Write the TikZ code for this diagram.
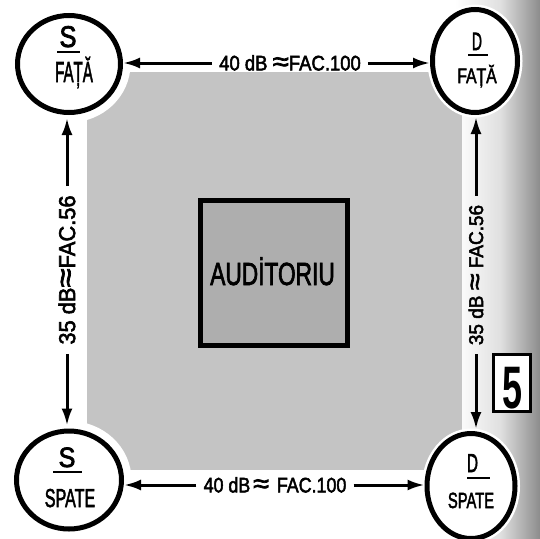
\documentclass[tikz,border=0pt]{standalone}
\usepackage{fontspec}
\setmainfont{Liberation Sans}
\newfontfamily\medfont{Liberation Sans}[FakeBold=2.5]
\usetikzlibrary{shapes.geometric,arrows.meta}
\definecolor{bggray}{RGB}{196,196,196}
\definecolor{boxgray}{RGB}{174,174,174}
\definecolor{edgegray}{RGB}{140,140,140}
\definecolor{edgelight}{RGB}{224,224,224}
\newcommand\mytxt[3]{\scalebox{#2}[1]{\fontsize{#1}{#1}\medfont #3}}
\newcommand\apx{\raisebox{-0.02em}{\scalebox{1.6}[1.3]{≈}}}
\begin{document}
\begin{tikzpicture}[x=1pt,y=-1pt,
  place/.style={ellipse, draw, line width=5pt, fill=white, inner sep=0pt},
  halo/.style={preaction={draw=white, line width=20pt}},
  thinhalo/.style={preaction={draw=white, line width=10pt}},
  conn/.style={line width=3pt, -{Latex[length=17pt,width=11pt]}},
  lbl/.style={inner xsep=7pt, inner ysep=0pt},
  txt/.style={anchor=base, inner sep=0pt},
  uline/.style={line width=2.5pt}
]
\useasboundingbox (0,0) rectangle (540,538);
\fill[white] (0,0) rectangle (540,538);
\shade[left color=white, right color=edgelight] (455,0) rectangle (500,538);
\shade[left color=edgelight, right color=edgegray] (500,0) rectangle (540,538);
\fill[bggray] (87,72) rectangle (462,470);

% circles
\node[place, halo, minimum width=103pt, minimum height=97pt] (SF) at (69,64) {};
\node[place, thinhalo, minimum width=85pt, minimum height=103pt] (DF) at (475,61) {};
\node[place, halo, minimum width=105pt, minimum height=98pt] (SS) at (69,480) {};
\node[place, thinhalo, minimum width=88pt, minimum height=105pt] (DS) at (471,486) {};

% circle texts
\node[txt] (SFa) at (68,47) {\mytxt{30}{0.85}{S}};
\draw[uline] (57,52) -- (80,52);
\node[txt] (SFb) at (74,82) {\mytxt{29}{0.52}{FAȚĂ}};

\node[txt] (DFa) at (477,50) {\mytxt{25}{0.55}{D}};
\draw[uline] (468,55) -- (488,55);
\node[txt] (DFb) at (477,83) {\mytxt{21}{0.75}{FAȚĂ}};

\node[txt] (SSa) at (67,467) {\mytxt{28}{0.9}{S}};
\draw[uline] (53,472) -- (82,472);
\node[txt] (SSb) at (70,507) {\mytxt{26}{0.62}{SPATE}};

\node[txt] (DSa) at (472.5,472) {\mytxt{26}{0.59}{D}};
\draw[uline] (467,478) -- (490,478);
\node[txt] (DSb) at (471,508) {\mytxt{22}{0.67}{SPATE}};

% auditorium
\node[draw, line width=5pt, fill=boxgray, minimum width=147pt, minimum height=145pt] (AUD) at (274,273) {};
\node[txt] (AUDt) at (272.5,285) {\mytxt{32}{0.71}{AUDİTORIU}};

% labels
\node[lbl] (top) at (290,63) {\mytxt{21}{0.88}{40 dB \apx FAC.100}};
\node[lbl] (bot) at (275,485) {\mytxt{21}{0.85}{40 dB\,\apx\, FAC.100}};
\node[lbl, inner xsep=9pt, rotate=90] (lft) at (67,270) {\mytxt{23}{0.95}{35 dB\apx FAC.56}};
\node[lbl, inner xsep=9pt, rotate=90] (rgt) at (476,275) {\mytxt{20}{0.95}{35 dB \apx\ FAC.56}};

% connectors
\draw[conn] (top.west) -- (top.west -| SF.east);
\draw[conn] (top.east) -- (top.east -| DF.west);
\draw[conn] (bot.west) -- (bot.west -| SS.east);
\draw[conn] (bot.east) -- (bot.east -| DS.west);
\draw[conn, shorten >=3pt] (lft.east) -- (lft.east |- SF.south);
\draw[conn, shorten >=3pt] (lft.west) -- (lft.west |- SS.north);
\draw[conn, shorten >=2pt] (rgt.east) -- (rgt.east |- DF.south);
\draw[conn, shorten >=2pt] (rgt.west) -- (rgt.west |- DS.north);

% figure number
\node[draw, line width=3pt, fill=white, minimum width=37pt, minimum height=57pt] (five) at (512,383) {};
\node[txt] (fivet) at (512.5,408) {\scalebox{0.6}[1]{\fontsize{60}{60}\selectfont\bfseries 5}};
\end{tikzpicture}
\end{document}
